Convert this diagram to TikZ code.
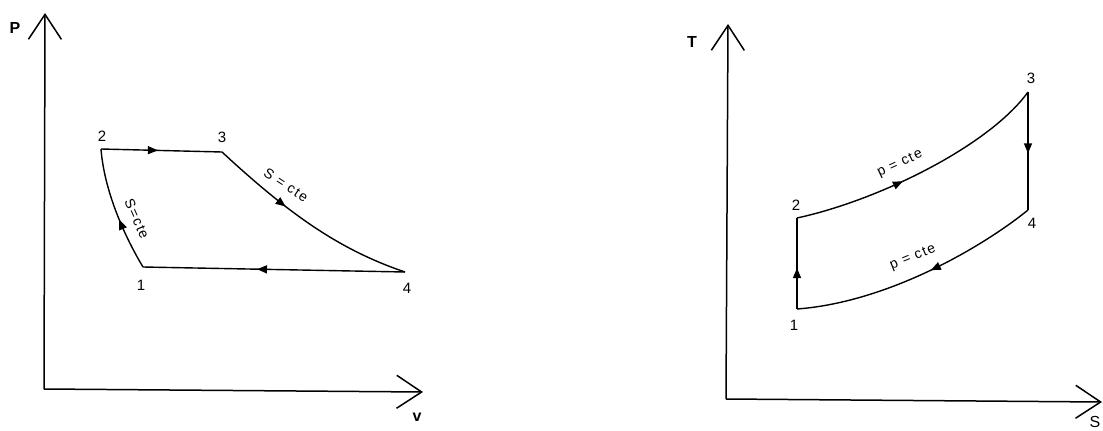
\documentclass[tikz,border=0pt]{standalone}
\usepackage{fontspec}
\setmainfont{Liberation Sans}
\usetikzlibrary{arrows.meta,decorations.markings}
\tikzset{
  axis/.style={line width=1.5pt,-{Straight Barb[length=25pt,width=33pt,line width=1.5pt]}},
  cyc/.style={line width=1.4pt},
  midarrow/.style={postaction={decorate,decoration={markings,
      mark=at position #1 with {\arrow{Triangle[length=10pt,width=8pt]}}}}},
  lbl/.style={font=\fontsize{15}{18}\selectfont, inner sep=0pt},
  axlbl/.style={font=\fontsize{16}{19}\selectfont\bfseries, inner sep=0pt},
  cte/.style={font=\fontsize{14}{16}\selectfont\addfontfeature{LetterSpace=10}, inner sep=1pt},
}
\begin{document}
\begin{tikzpicture}[x=1pt,y=-1pt]
\useasboundingbox (0,0) rectangle (1103,431);
% ---------- left: P-v ----------
\coordinate (O1) at (44,389);
\coordinate (Ptop) at (45,13);
\coordinate (Vend) at (423,392);
\draw[axis] (O1) -- (Ptop);
\draw[axis] (O1) -- (Vend);
\node[axlbl] (P) at (15,28) {P};
\node[axlbl] (v) at (417,417) {v};

\coordinate (p1) at (143,267);
\coordinate (p2) at (101,149);
\coordinate (p3) at (222,152);
\coordinate (p4) at (405,272);
\draw[cyc,midarrow=0.47] (p2) -- (p3);
\draw[cyc,midarrow=0.38] (p3) .. controls (290,215) and (340,250) .. (p4);
\draw[cyc,midarrow=0.565] (p4) -- (p1);
\draw[cyc,midarrow=0.42] (p1) .. controls (122,232) and (104,188) .. (p2);
\node[lbl] (l1) at (141,285) {1};
\node[lbl] (l2) at (102,136) {2};
\node[lbl] (l3) at (222,137) {3};
\node[lbl] (l4) at (407,288) {4};
\node[cte,rotate=-66] (s12) at (137,219) {S=cte};
\node[cte,rotate=-33] (s34) at (286,185) {S = cte};

% ---------- right: T-s ----------
\coordinate (O2) at (726,399);
\coordinate (Ttop) at (728,24);
\coordinate (Send) at (1102,402);
\draw[axis] (O2) -- (Ttop);
\draw[axis] (O2) -- (Send);
\node[axlbl] (T) at (692,42) {T};
\node[font=\fontsize{16}{19}\selectfont, inner sep=0pt] (S) at (1095,422) {S};

\coordinate (q1) at (797,309);
\coordinate (q2) at (797,218);
\coordinate (q3) at (1028,92);
\coordinate (q4) at (1028,210);
\draw[cyc,midarrow=0.45] (q1) -- (q2);
\draw[cyc,midarrow=0.42] (q2) .. controls (880,200) and (990,145) .. (q3);
\draw[cyc,midarrow=0.52] (q3) -- (q4);
\draw[cyc,midarrow=0.45] (q4) .. controls (985,245) and (890,302) .. (q1);
\node[lbl] (m1) at (794,325) {1};
\node[lbl] (m2) at (796,205) {2};
\node[lbl] (m3) at (1031,78) {3};
\node[lbl] (m4) at (1032,223) {4};
\node[cte,rotate=25] (p23) at (900,164) {p = cte};
\node[cte,rotate=22] (p41) at (913,258) {p = cte};
\end{tikzpicture}
\end{document}
